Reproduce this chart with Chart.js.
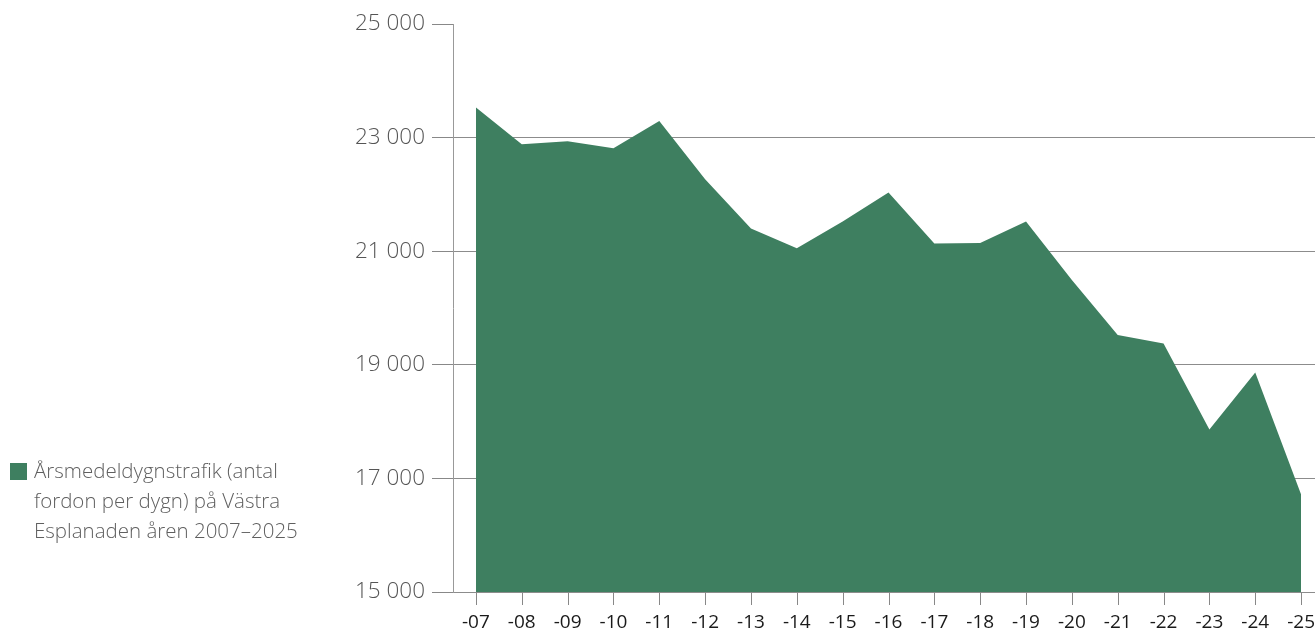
<!DOCTYPE html>
<html lang="sv">
<head>
<meta charset="utf-8">
<title>Årsmedeldygnstrafik Västra Esplanaden</title>
<script src="https://cdn.jsdelivr.net/npm/chart.js@4.4.1/dist/chart.umd.min.js"></script>
<style>
    html, body { margin: 0; padding: 0; background: #fff; overflow: hidden; }
    .wrap { position: relative; width: 1334px; height: 634px; }
    #traffic { display: block; }
    .legend {
        position: absolute; left: 10px; top: 455px; width: 300px;
        font-family: "Open Sans", sans-serif; font-weight: 300;
        font-size: 20.5px; line-height: 30px; color: #5f5f5f;
    }
    .legend .box {
        position: absolute; left: 0; top: 8px;
        width: 17px; height: 17px;
    }
    .legend .txt { position: absolute; left: 24px; top: 0; width: 285px; }
</style>
</head>
<body>
<div class="wrap">
    <canvas id="traffic" width="1334" height="634"></canvas>
    <div class="legend" id="legend"></div>
</div>
<script>
const years = ['-07', '-08', '-09', '-10', '-11', '-12', '-13', '-14', '-15', '-16',
               '-17', '-18', '-19', '-20', '-21', '-22', '-23', '-24', '-25'];
const traffic = [23530, 22882, 22935, 22811, 23293, 22265, 21399, 21053, 21522, 22033,
                 21134, 21146, 21522, 20494, 19524, 19377, 17861, 18866, 16718];
const yTicks = [15000, 17000, 19000, 21000, 23000, 25000];
const seriesLabel = 'Årsmedeldygnstrafik (antal fordon per dygn) på Västra Esplanaden åren 2007–2025';
const green = '#3e7f60';

// legend lives in html so the long label can wrap
const legend = document.getElementById('legend');
legend.innerHTML = '<span class="box" style="background:' + green + '"></span>' +
    '<span class="txt">' + seriesLabel + '</span>';

const fmt = v => String(v).replace(/\B(?=(\d{3})+(?!\d))/g, '\u00a0');

new Chart(document.getElementById('traffic').getContext('2d'), {
    type: 'line',
    data: {
        labels: years,
        datasets: [{
            label: seriesLabel,
            data: traffic,
            fill: 'start',
            backgroundColor: green,
            borderWidth: 0,
            pointRadius: 0,
            tension: 0
        }]
    },
    options: {
        responsive: false,
        animation: false,
        layout: { padding: { left: 323, top: 24, right: 0, bottom: 0 } },
        plugins: { legend: { display: false }, tooltip: { enabled: false } },
        scales: {
            x: {
                offset: true,
                grid: { display: false, drawTicks: false },
                border: { display: false },
                ticks: {
                    color: '#1a1a1a', padding: 19,
                    font: { family: 'Open Sans', size: 19 },
                    maxRotation: 0, autoSkip: false
                },
                afterFit: s => { s.height = 42; }
            },
            y: {
                min: 15000, max: 25000,
                z: 1,
                afterBuildTicks: s => { s.ticks = yTicks.map(v => ({ value: v })); },
                grid: {
                    // top value gets only its tick mark, no line across
                    color: c => c.tick && c.tick.value === 25000 ? 'rgba(0,0,0,0)' : 'rgba(0,0,0,0.45)',
                    tickColor: '#888',
                    lineWidth: 1,
                    drawTicks: true, tickLength: 21
                },
                border: { display: true, color: '#999', width: 1 },
                ticks: {
                    color: '#555', padding: 7,
                    font: { family: 'Open Sans', size: 22.5, weight: '300' },
                    callback: v => fmt(v)
                },
                afterFit: s => { s.width = 130; }
            }
        }
    },
    plugins: [{
        // x tick marks below the axis
        id: 'xTickMarks',
        afterDraw(chart) {
            const ctx = chart.ctx, x = chart.scales.x, y = chart.scales.y;
            const base = y.getPixelForValue(15000);
            ctx.save();
            ctx.strokeStyle = '#888';
            ctx.lineWidth = 1;
            ctx.beginPath();
            years.forEach((_, i) => {
                const px = Math.round(x.getPixelForValue(i)) + 0.5;
                ctx.moveTo(px, base);
                ctx.lineTo(px, base + 13);
            });
            ctx.stroke();
            ctx.restore();
        }
    }]
});
</script>
</body>
</html>
